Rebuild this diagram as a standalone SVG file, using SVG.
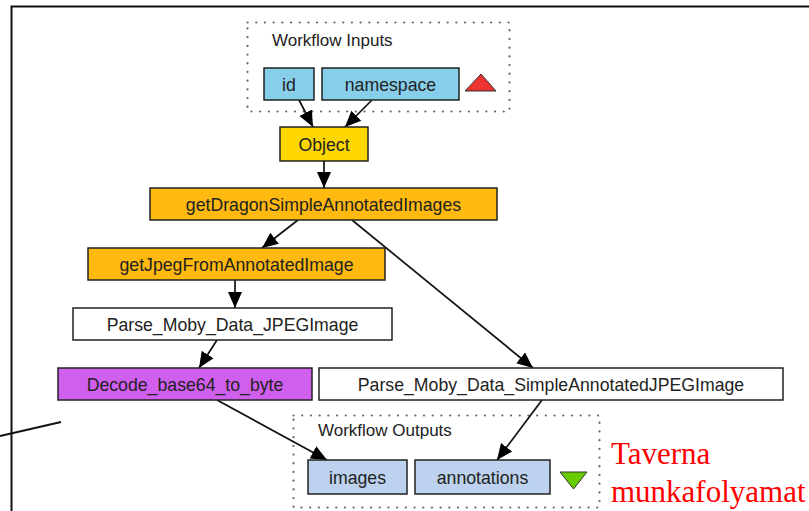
<svg xmlns="http://www.w3.org/2000/svg" width="809" height="511" viewBox="0 0 809 511">
<style>
.frame{fill:none;stroke:#111;stroke-width:2}
.cluster{fill:none;stroke:#666;stroke-width:2.2;stroke-dasharray:0.1 8.6;stroke-linecap:round}
.ctitle{font-family:"Liberation Sans",Arial,sans-serif;font-size:17px;fill:#222}
.box{stroke:#222;stroke-width:1.5}
.lbl{font-family:"Liberation Sans",Arial,sans-serif;font-size:17.7px;fill:#222;text-anchor:middle}
.edge{stroke:#111;stroke-width:1.7;fill:none}
.big{font-family:"Liberation Serif","Times New Roman",serif;font-size:31px;fill:#ff0000}
</style>
<defs>
<marker id="arr" markerUnits="userSpaceOnUse" markerWidth="18" markerHeight="16" refX="16" refY="7" orient="auto" viewBox="0 0 18 14">
<path d="M0,0 L16,7 L0,14 Z" fill="#000"/>
</marker>
</defs>
<rect width="809" height="511" fill="#fff"/>
<rect class="frame" x="11.5" y="6.5" width="810" height="520"/>
<line x1="0" y1="436" x2="61" y2="422" stroke="#111" stroke-width="2"/>

<g id="inputs-cluster">
<rect class="cluster" x="247.5" y="22.5" width="262" height="89"/>
<text class="ctitle" x="272" y="46">Workflow Inputs</text>
<polygon points="465,91 481,74 496,91" fill="#ee3333" stroke="#333" stroke-width="1"/>
</g>
<g id="outputs-cluster">
<rect class="cluster" x="293.5" y="415.5" width="306" height="92"/>
<text class="ctitle" x="318" y="436">Workflow Outputs</text>
<polygon points="560,472 587,472 573.5,489" fill="#66cc00" stroke="#333" stroke-width="1"/>
</g>

<g id="connectors">
<line class="edge" x1="299" y1="100" x2="313" y2="127" marker-end="url(#arr)"/>
<line class="edge" x1="372" y1="100" x2="345" y2="127" marker-end="url(#arr)"/>
<line class="edge" x1="324" y1="161" x2="324" y2="188" marker-end="url(#arr)"/>
<line class="edge" x1="298" y1="220" x2="262" y2="248" marker-end="url(#arr)"/>
<line class="edge" x1="352" y1="220" x2="533" y2="368" marker-end="url(#arr)"/>
<line class="edge" x1="235" y1="280" x2="235" y2="308" marker-end="url(#arr)"/>
<line class="edge" x1="217" y1="340" x2="199" y2="368" marker-end="url(#arr)"/>
<line class="edge" x1="217" y1="400" x2="327" y2="460" marker-end="url(#arr)"/>
<line class="edge" x1="542" y1="400" x2="497" y2="460" marker-end="url(#arr)"/>
</g>

<g id="id"><rect class="box" x="264" y="68" width="50" height="32" fill="#87ceeb"/><text class="lbl" x="289" y="91">id</text></g>
<g id="namespace"><rect class="box" x="322" y="68" width="137" height="32" fill="#87ceeb"/><text class="lbl" x="390.5" y="91">namespace</text></g>
<g id="Object"><rect class="box" x="280" y="127" width="88" height="34" fill="#ffd700"/><text class="lbl" x="324" y="151">Object</text></g>
<g id="getDragonSimpleAnnotatedImages"><rect class="box" x="150" y="188" width="347" height="32" fill="#ffb90f"/><text class="lbl" x="323.5" y="211">getDragonSimpleAnnotatedImages</text></g>
<g id="getJpegFromAnnotatedImage"><rect class="box" x="88" y="248" width="297" height="32" fill="#ffb90f"/><text class="lbl" x="236.5" y="271">getJpegFromAnnotatedImage</text></g>
<g id="Parse_Moby_Data_JPEGImage"><rect class="box" x="73" y="308" width="319" height="32" fill="#ffffff"/><text class="lbl" x="232.5" y="331">Parse_Moby_Data_JPEGImage</text></g>
<g id="Decode_base64_to_byte"><rect class="box" x="58" y="368" width="254" height="32" fill="#d15fee"/><text class="lbl" x="185" y="391">Decode_base64_to_byte</text></g>
<g id="Parse_Moby_Data_SimpleAnnotatedJPEGImage"><rect class="box" x="319" y="368" width="464" height="32" fill="#ffffff"/><text class="lbl" x="551" y="391">Parse_Moby_Data_SimpleAnnotatedJPEGImage</text></g>
<g id="images"><rect class="box" x="308" y="460" width="99" height="34" fill="#bcd2ee"/><text class="lbl" x="357.5" y="484">images</text></g>
<g id="annotations"><rect class="box" x="415" y="460" width="135" height="34" fill="#bcd2ee"/><text class="lbl" x="482.5" y="484">annotations</text></g>

<text class="big" x="611" y="464">Taverna</text>
<text class="big" x="611" y="502">munkafolyamat</text>
</svg>
